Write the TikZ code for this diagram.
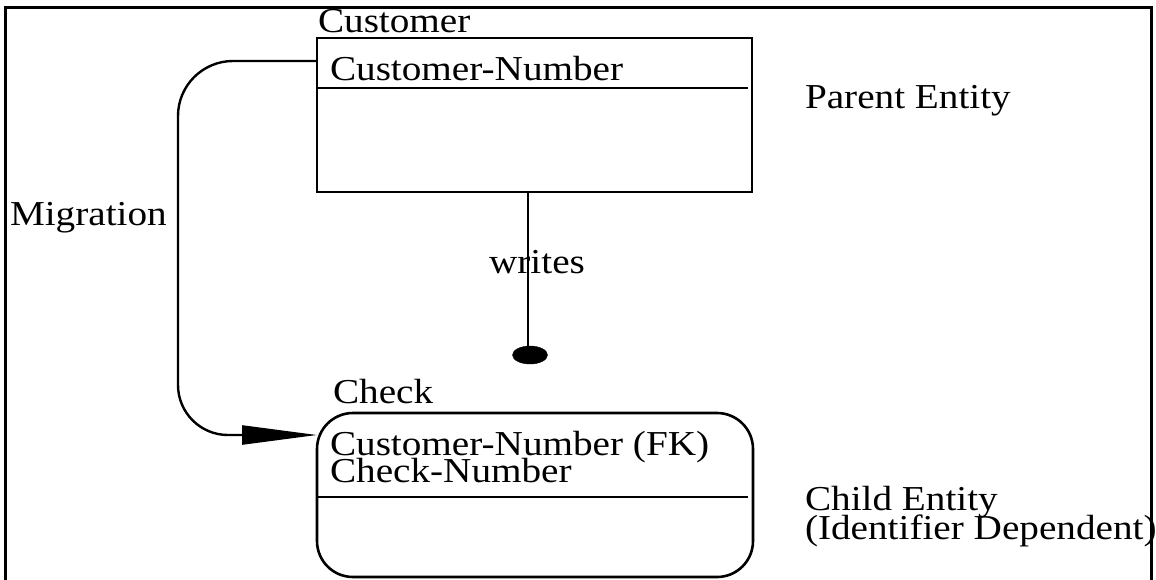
\documentclass[tikz,border=0pt]{standalone}
\usepackage{fontspec}
\setmainfont{Liberation Serif}[FakeStretch=1.12]
\usetikzlibrary{arrows.meta,shapes.geometric}
\begin{document}
\begin{tikzpicture}[x=1pt,y=-1pt,
  every node/.style={inner sep=0pt,outer sep=0pt},
  lbl/.style={anchor=base west,font=\fontsize{35}{40}\selectfont},
  entity/.style={draw,line width=2.6pt,minimum width=435pt,anchor=north west},
  rule/.style={line width=2.6pt},
  conn/.style={line width=2.4pt}]
  \useasboundingbox (0,0) rectangle (1156,579);
  % outer frame (bottom edge runs past the page)
  \draw[line width=3pt] (5,600) -- (5,7) -- (1151,7) -- (1151,600);

  % parent entity
  \node[entity,minimum height=154pt] (cust) at (317,38) {};
  \node[lbl] (custname) at (318,32) {Customer};
  \node[lbl] (custkey) at (330,80) {Customer-Number};
  \coordinate (cd1) at (317,88);
  \coordinate (cd2) at (748,88);
  \draw[rule] (cd1) -- (cd2);
  \node[lbl] (parent) at (805,108) {Parent Entity};

  % child entity
  \node[entity,minimum width=436pt,minimum height=164pt,rounded corners=36pt] (check) at (317,413) {};
  \node[lbl] (checkname) at (333,403) {Check};
  \node[lbl] (checkkey1) at (330,455) {Customer-Number (FK)};
  \node[lbl] (checkkey2) at (330,482) {Check-Number};
  \coordinate (kd1) at (317,497);
  \coordinate (kd2) at (748,497);
  \draw[rule] (kd1) -- (kd2);
  \node[lbl] (child1) at (805,510) {Child Entity};
  \node[lbl] (child2) at (805,539) {(Identifier Dependent)};

  % relationship "writes"
  \node[draw,fill,ellipse,minimum width=35pt,minimum height=18pt] (dot) at (530,355) {};
  \draw[conn] (cust.south -| 528,0) -- (528,347);
  \node[lbl,anchor=base] (writes) at (537,273) {writes};

  % key migration
  \node[lbl] (mig) at (10,225) {Migration};
  \draw[conn,-{Triangle[length=75pt,width=19pt]}]
    (cust.west |- 0,61) -- (233,61) arc[start angle=270,end angle=180,radius=55]
    -- (178,385) arc[start angle=180,end angle=90,radius=50]
    -- (check.west |- 0,435);
\end{tikzpicture}
\end{document}
